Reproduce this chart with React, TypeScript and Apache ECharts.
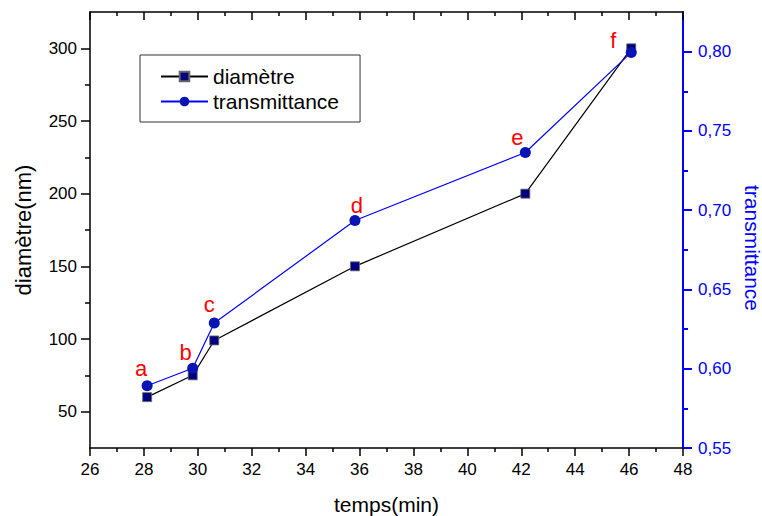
import React, { useEffect, useRef } from 'react';
import * as echarts from 'echarts';

// ---- data ----
const tempsDiametre = [28.12, 29.81, 30.61, 35.83, 42.15, 46.08];
const diametre = [60, 75, 99, 150, 200, 300];
const tempsTransmittance = [28.12, 29.81, 30.61, 35.83, 42.15, 46.08];
const transmittance = [0.5893, 0.6003, 0.6288, 0.6935, 0.7364, 0.7995];
const pointLetters = ['a', 'b', 'c', 'd', 'e', 'f'];

const leftMajorTicks = [50, 100, 150, 200, 250, 300];
const leftMinorTicks = [75, 125, 175, 225, 275];
const rightMajorTicks = [0.55, 0.6, 0.65, 0.7, 0.75, 0.8];
const rightMinorTicks = [0.575, 0.625, 0.675, 0.725, 0.775];

// label placement (style only)
const letterOffsets: number[][] = [
  [-6, -17],
  [-7, -16],
  [-5, -19],
  [2, -15],
  [-8, -15],
  [-18, -12],
];

const FONT = '"Liberation Sans", Arial, Helvetica, sans-serif';

export default function App() {
  const ref = useRef<HTMLDivElement>(null);

  useEffect(() => {
    if (!ref.current) return;
    const chart = echarts.init(ref.current, undefined, { renderer: 'svg' });

    const blue = '#0000ff';

    const option: any = {
      animation: false,
      backgroundColor: '#ffffff',
      textStyle: { fontFamily: FONT },
      grid: {
        left: 90,
        right: 79,
        top: 12,
        bottom: 68,
        containLabel: false,
        outerBoundsMode: 'none',
      },
      legend: {
        left: 140,
        top: 55,
        orient: 'vertical',
        itemWidth: 47,
        itemHeight: 12,
        itemGap: 4,
        padding: [11, 21, 10, 20],
        borderColor: '#333',
        borderWidth: 1,
        borderRadius: 0,
        backgroundColor: '#ffffff',
        textStyle: { fontFamily: FONT, fontSize: 21, lineHeight: 21, color: '#000' },
        data: ['diamètre', 'transmittance'],
      },
      xAxis: [
        {
          type: 'value',
          position: 'bottom',
          min: 26,
          max: 48,
          interval: 2,
          name: 'temps(min)',
          nameLocation: 'middle',
          nameGap: 46,
          nameTextStyle: { fontFamily: FONT, fontSize: 21, color: '#000' },
          axisLine: { show: true, onZero: false, lineStyle: { color: '#000', width: 1.5 } },
          axisTick: { show: true, inside: false, length: 8, lineStyle: { color: '#000', width: 1.5 } },
          minorTick: { show: true, splitNumber: 2, length: 4, lineStyle: { color: '#000', width: 1.5 } },
          axisLabel: { show: true, margin: 13, fontFamily: FONT, fontSize: 17, color: '#000' },
          splitLine: { show: false },
          minorSplitLine: { show: false },
        },
        {
          type: 'value',
          position: 'top',
          min: 26,
          max: 48,
          interval: 2,
          axisLine: { show: true, onZero: false, lineStyle: { color: '#000', width: 1.5 } },
          axisTick: { show: true, inside: true, length: 8, lineStyle: { color: '#000', width: 1.5 } },
          minorTick: { show: true, splitNumber: 2, length: 4, lineStyle: { color: '#000', width: 1.5 } },
          axisLabel: { show: false },
          splitLine: { show: false },
        },
      ],
      yAxis: [
        {
          type: 'value',
          position: 'left',
          min: 25,
          max: 325,
          name: 'diamètre(nm)',
          nameLocation: 'middle',
          nameGap: 56,
          nameRotate: 90,
          nameTextStyle: { fontFamily: FONT, fontSize: 22, color: '#000' },
          axisLine: { show: true, onZero: false, lineStyle: { color: '#000', width: 1.5 } },
          axisTick: {
            show: true,
            length: 9,
            customValues: leftMajorTicks,
            lineStyle: { color: '#000', width: 1.5 },
          },
          axisLabel: {
            show: true,
            margin: 13,
            customValues: leftMajorTicks,
            fontFamily: FONT,
            fontSize: 17,
            color: '#000',
          },
          splitLine: { show: false },
        },
        {
          type: 'value',
          position: 'right',
          min: 0.55,
          max: 0.825,
          name: 'transmittance',
          nameLocation: 'middle',
          nameGap: 53,
          nameRotate: -90,
          nameTextStyle: {
            fontFamily: FONT,
            fontSize: 21,
            lineHeight: 21,
            color: blue,
            padding: [0, 0, 0, 36],
          },
          axisLine: { show: true, onZero: false, lineStyle: { color: blue, width: 2 } },
          axisTick: {
            show: true,
            length: 9,
            customValues: rightMajorTicks,
            lineStyle: { color: blue, width: 2 },
          },
          axisLabel: {
            show: true,
            margin: 15,
            customValues: rightMajorTicks,
            fontFamily: FONT,
            fontSize: 17,
            color: blue,
            formatter: (v: number) => v.toFixed(2).replace('.', ','),
          },
          splitLine: { show: false },
        },
        {
          type: 'value',
          position: 'left',
          offset: 0,
          min: 25,
          max: 325,
          axisLine: { show: false },
          axisTick: {
            show: true,
            length: 5,
            customValues: leftMinorTicks,
            lineStyle: { color: '#000', width: 1.5 },
          },
          axisLabel: { show: false },
          splitLine: { show: false },
        },
        {
          type: 'value',
          position: 'right',
          offset: 0,
          min: 0.55,
          max: 0.825,
          axisLine: { show: false },
          axisTick: {
            show: true,
            length: 5,
            customValues: rightMinorTicks,
            lineStyle: { color: blue, width: 2 },
          },
          axisLabel: { show: false },
          splitLine: { show: false },
        },
      ],
      series: [
        {
          name: 'diamètre',
          type: 'line',
          xAxisIndex: 0,
          yAxisIndex: 0,
          symbol: 'rect',
          symbolSize: 9,
          lineStyle: { color: '#000', width: 1.2 },
          itemStyle: { color: '#00007f', borderColor: '#666', borderWidth: 0.8 },
          data: tempsDiametre.map((x, i) => [x, diametre[i]]),
          z: 2,
        },
        {
          name: 'transmittance',
          type: 'line',
          xAxisIndex: 0,
          yAxisIndex: 1,
          symbol: 'circle',
          symbolSize: 11,
          lineStyle: { color: blue, width: 1.2 },
          itemStyle: { color: '#0a14b4', borderColor: '#0a14b4', borderWidth: 0 },
          label: {
            show: true,
            position: 'inside',
            fontFamily: FONT,
            fontSize: 22,
            color: '#ff0000',
          },
          data: tempsTransmittance.map((x, i) => ({
            value: [x, transmittance[i]],
            label: { formatter: pointLetters[i], offset: letterOffsets[i] },
          })),
          z: 3,
        },
      ],
    };

    chart.setOption(option);
    return () => chart.dispose();
  }, []);

  return (
    <div
      ref={ref}
      style={{ position: 'fixed', left: 0, top: 0, width: 762, height: 516, background: '#fff' }}
    />
  );
}
